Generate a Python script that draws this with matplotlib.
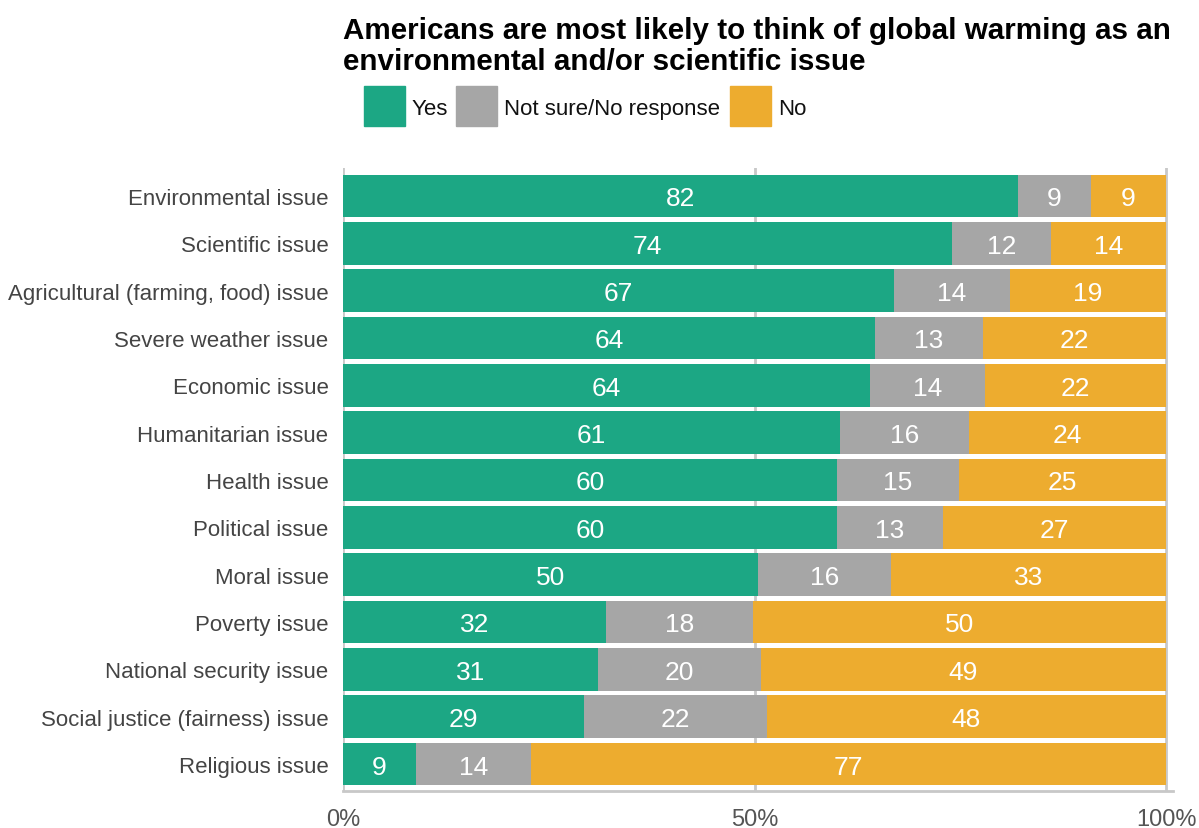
import matplotlib.pyplot as plt
from matplotlib.patches import Rectangle

plt.rcParams['font.family'] = ['Liberation Sans', 'DejaVu Sans']

# categorias e percentuais
categorias = ["Environmental issue", "Scientific issue", "Agricultural (farming, food) issue",
              "Severe weather issue", "Economic issue", "Humanitarian issue", "Health issue",
              "Political issue", "Moral issue", "Poverty issue", "National security issue",
              "Social justice (fairness) issue", "Religious issue"]
sim = [82.0, 74.0, 67.0, 64.6, 64.0, 60.4, 60.0, 60.0, 50.4, 32.0, 31.0, 29.3, 8.9]
nao_sei = [8.9, 12.0, 14.0, 13.2, 14.0, 15.7, 14.8, 12.9, 16.2, 17.8, 19.8, 22.2, 13.9]
nao = [9.1, 14.0, 19.0, 22.2, 22.0, 23.9, 25.2, 27.1, 33.4, 50.2, 49.2, 48.5, 77.2]
rotulos_sim = [82, 74, 67, 64, 64, 61, 60, 60, 50, 32, 31, 29, 9]
rotulos_nao_sei = [9, 12, 14, 13, 14, 16, 15, 13, 16, 18, 20, 22, 14]
rotulos_nao = [9, 14, 19, 22, 22, 24, 25, 27, 33, 50, 49, 48, 77]

series = ["Yes", "Not sure/No response", "No"]
cores = ["#1ca784", "#a6a6a6", "#edac2f"]

fig = plt.figure(figsize=(11.99, 8.29), dpi=100)
W, H = 1199, 829
ax = fig.add_axes([343 / W, 1 - 792 / H, (1173 - 343) / W, (792 - 169) / H])

y = list(range(len(categorias)))
esquerda = [0] * len(categorias)
for valores, rotulos, cor in zip([sim, nao_sei, nao],
                                 [rotulos_sim, rotulos_nao_sei, rotulos_nao], cores):
    barras = ax.barh(y, valores, left=esquerda, height=0.9, color=cor, zorder=2)
    textos = ax.bar_label(barras, labels=[str(r) for r in rotulos], label_type='center',
                          color='white', fontsize=19)
    for t in textos:
        t.set_va('center_baseline')
    esquerda = [e + v for e, v in zip(esquerda, valores)]

for x in [0, 50, 100]:
    ax.axvline(x, color='#c8c8c8', linewidth=2, zorder=1)

ax.set_xlim(0, 100 * (1173 - 343) / (1166 - 343))
ax.set_ylim(len(categorias) - 0.43, -0.59)
ax.set_yticks(y)
ax.set_yticklabels(categorias, fontsize=16, color='#444444')
ax.set_xticks([0, 50, 100])
ax.set_xticklabels(["0%", "50%", "100%"], fontsize=17, color='#555555')
ax.tick_params(length=0)
ax.tick_params(axis='y', pad=10.5)
ax.tick_params(axis='x', pad=12)
for lado in ['top', 'right', 'left']:
    ax.spines[lado].set_visible(False)
ax.spines['bottom'].set_color('#c8c8c8')
ax.spines['bottom'].set_linewidth(2)

fig.text(343 / W, 1 - 17 / H,
         "Americans are most likely to think of global warming as an\n"
         "environmental and/or scientific issue",
         fontsize=21.3, fontweight='bold', va='top', ha='left', linespacing=1.12)

# legenda manual
pos_quadrado = [364, 456, 730]
for nome, cor, px in zip(series, cores, pos_quadrado):
    fig.patches.append(Rectangle((px / W, 1 - 127 / H), 41 / W, 40 / H,
                                 transform=fig.transFigure, color=cor, figure=fig))
    fig.text((px + 48) / W, 1 - 107 / H, nome, fontsize=16, va='center_baseline',
             ha='left', color='#111111')

fig.savefig("out.png", dpi=100)
